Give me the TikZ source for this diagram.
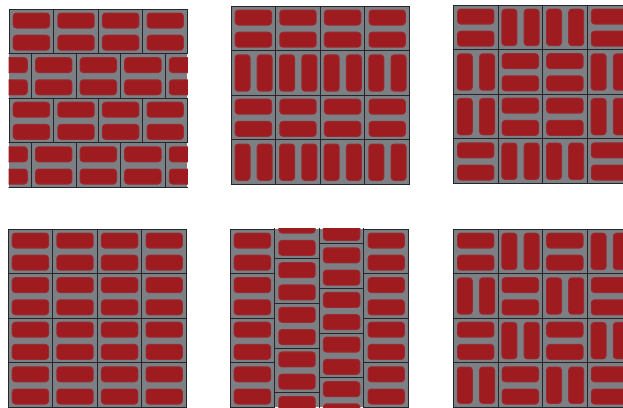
\documentclass[tikz,border=0pt]{standalone}
\usepackage{tikz}

\definecolor{jointgray}{RGB}{124,127,132}
\definecolor{brickred}{RGB}{158,27,32}
\definecolor{edgedark}{RGB}{38,38,40}

\newcommand{\cellsize}{44.6}
\newcommand{\brickH}[2]{%
  \begin{scope}[shift={(#1,#2)}]
    \filldraw[brick] (4.2,4.0) rectangle (\cellsize-4.0,19.0);
    \filldraw[brick] (4.2,26.2) rectangle (\cellsize-4.0,41.2);
    \draw[joint] (0,0) rectangle (\cellsize,\cellsize);
  \end{scope}}
\newcommand{\brickV}[2]{%
  \begin{scope}[shift={(#1,#2)}]
    \filldraw[brick] (4.0,4.2) rectangle (19.0,\cellsize-4.0);
    \filldraw[brick] (26.2,4.2) rectangle (41.2,\cellsize-4.0);
    \draw[joint] (0,0) rectangle (\cellsize,\cellsize);
  \end{scope}}

\begin{document}
\begin{tikzpicture}[
  x=1pt, y=-1pt,
  brick/.style={fill=brickred, draw=brickred!85!jointgray, line width=1pt, rounded corners=3.2pt},
  joint/.style={draw=edgedark, line width=0.8pt},
  bed/.style={fill=jointgray},
]
  \useasboundingbox (0,0) rectangle (623,407);
  \clip (0,0) rectangle (623,407);

  % running bond
  \begin{scope}
    \clip (8.6,8.6) rectangle ++(179.2,179.2);
    \fill[bed] (9,9) rectangle ++(178.4,178.4);
    \foreach \j in {0,2} \foreach \i in {0,...,3} \brickH{9+\i*\cellsize}{9+\j*\cellsize};
    \foreach \j in {1,3} \foreach \i in {0,...,4} \brickH{9-0.5*\cellsize+\i*\cellsize}{9+\j*\cellsize};
  \end{scope}

  % alternating rows
  \begin{scope}
    \clip (230.6,5.6) rectangle ++(179.2,179.2);
    \fill[bed] (231,6) rectangle ++(178.4,178.4);
    \foreach \j in {0,2} \foreach \i in {0,...,3} \brickH{231+\i*\cellsize}{6+\j*\cellsize};
    \foreach \j in {1,3} \foreach \i in {0,...,3} \brickV{231+\i*\cellsize}{6+\j*\cellsize};
  \end{scope}

  % framed weave
  \begin{scope}
    \clip (452.9,4.6) rectangle ++(179.2,179.2);
    \fill[bed] (453.3,5) rectangle ++(178.4,178.4);
    \foreach \i/\j in {0/0,3/0,1/1,2/1,1/2,2/2,0/3,3/3} \brickH{453.3+\i*\cellsize}{5+\j*\cellsize};
    \foreach \i/\j in {1/0,2/0,0/1,3/1,0/2,3/2,1/3,2/3} \brickV{453.3+\i*\cellsize}{5+\j*\cellsize};
  \end{scope}

  % stack bond
  \begin{scope}
    \clip (7.6,228.6) rectangle ++(179.2,179.2);
    \fill[bed] (8,229) rectangle ++(178.4,178.4);
    \foreach \j in {0,...,3} \foreach \i in {0,...,3} \brickH{8+\i*\cellsize}{229+\j*\cellsize};
  \end{scope}

  % stepped columns
  \begin{scope}
    \clip (229.6,228.6) rectangle ++(179.2,179.2);
    \fill[bed] (230,229) rectangle ++(178.4,178.4);
    \foreach \i/\dy in {0/0,1/-14.87,2/-29.73,3/0}
      \foreach \j in {0,...,4} \brickH{230+\i*\cellsize}{229+\dy+\j*\cellsize};
  \end{scope}

  % basket weave
  \begin{scope}
    \clip (452.9,228.6) rectangle ++(179.2,179.2);
    \fill[bed] (453.3,229) rectangle ++(178.4,178.4);
    \foreach \i/\j in {0/0,2/0,1/1,3/1,0/2,2/2,1/3,3/3} \brickH{453.3+\i*\cellsize}{229+\j*\cellsize};
    \foreach \i/\j in {1/0,3/0,0/1,2/1,1/2,3/2,0/3,2/3} \brickV{453.3+\i*\cellsize}{229+\j*\cellsize};
  \end{scope}
\end{tikzpicture}
\end{document}
